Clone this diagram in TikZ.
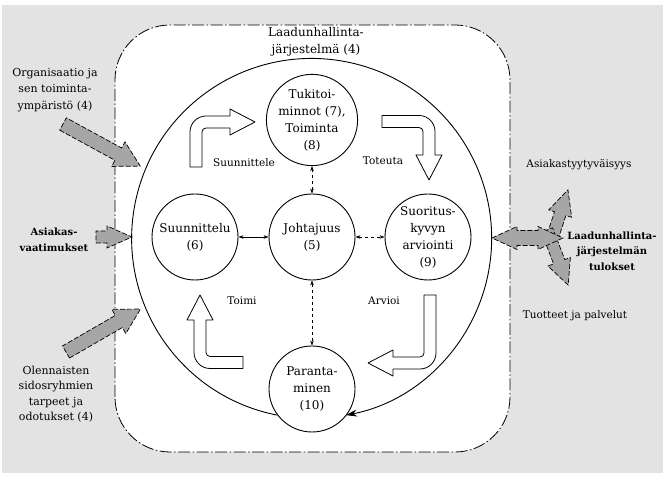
\documentclass[tikz,border=0pt]{standalone}
\usepackage{fontspec}
\setmainfont{DejaVu Serif}
\usepackage{xcolor}
\usepackage{tikz}
\usetikzlibrary{arrows.meta}
\colorlet{bggrey}{black!11}
\colorlet{arrowgrey}{black!35}
\tikzstyle{phase}=[draw,circle,line width=.9pt,minimum size=86pt,inner sep=0pt,align=center,font=\fontsize{12}{17}\selectfont]
\tikzstyle{lbl}=[font=\fontsize{10.5}{13}\selectfont]
\tikzstyle{side}=[align=center,font=\fontsize{11}{16.5}\selectfont]
\tikzstyle{bside}=[align=center,font=\bfseries\fontsize{10}{15.5}\selectfont]
\tikzstyle{link}=[line width=.5pt,<->,>={Stealth[length=5pt,width=3.5pt]}]
\tikzstyle{weak}=[dashed]
\tikzstyle{hollow}=[draw,fill=white,line width=.8pt,line join=round]
\tikzstyle{greyblock}=[draw,fill=arrowgrey,line width=.7pt,dash pattern=on 5pt off 2pt]
\tikzstyle{frame}=[draw,fill=white,line width=.8pt,rounded corners=55pt,dash pattern=on 12pt off 2.5pt on 1.5pt off 2.5pt]
% bent hollow arrow: corner, rotation, tail length, tip length
\newcommand\bentarrow[4]{\draw[hollow,shift={#1},rotate=#2] (-6,-#3) -- (-6,-10)
  arc[start angle=180,end angle=90,radius=16] -- ({#4-25},6) -- ({#4-25},13) -- (#4,0)
  -- ({#4-25},-13) -- ({#4-25},-6) -- (10,-6) arc[start angle=90,end angle=180,radius=4]
  -- (6,-#3) -- cycle;}
% grey block arrow: tail, rotation, length, shaft and head half width
\newcommand\greyarrow[5]{\draw[greyblock,shift={#1},rotate=#2] (0,-#4) -- ({#3-25},-#4)
  -- ({#3-25},-#5) -- (#3,0) -- ({#3-25},#5) -- ({#3-25},#4) -- (0,#4) -- cycle;}

\begin{document}
\begin{tikzpicture}[x=1pt,y=1pt]
	\useasboundingbox (0,0) rectangle (667,478);
	\fill[bggrey] (2,5) rectangle (663,473);
	\draw[frame] (115,26) rectangle (510,453);
	\node[align=center,font=\fontsize{12}{17}\selectfont] (qms) at (316,436.5) {Laadunhallinta-\\järjestelmä (4)};

	\node[phase] (tuki) at (312,358) {Tukitoi-\\minnot (7),\\Toiminta\\(8)};
	\node[phase] (suun) at (195,241) {Suunnittelu\\(6)};
	\node[phase] (joht) at (312,241) {Johtajuus\\(5)};
	\node[phase] (suor) at (428,241) {Suoritus-\\kyvyn\\arviointi\\(9)};
	\node[phase] (para) at (312,89)  {Paranta-\\minen\\(10)};

	\draw[line width=.9pt,-{Stealth[length=11pt,width=7pt]}] (para.217) arc[start angle=259,end angle=-79,radius=180];
	\draw[link] (joht) -- (suun);
	\draw[link,weak] (joht) -- (suor);
	\draw[link,weak] (joht) -- (tuki);
	\draw[link,weak] (joht) -- (para);

	\bentarrow{(196,356)}{0}{45}{59}
	\bentarrow{(429,356.5)}{-90}{47}{58.5}
	\bentarrow{(430,115)}{180}{68}{62}
	\bentarrow{(200,115.5)}{90}{43}{67.5}
	\node[lbl] (plan) at (244,315) {Suunnittele};
	\node[lbl] (do)   at (383,317) {Toteuta};
	\node[lbl] (act)  at (242,177) {Toimi};
	\node[lbl] (chk)  at (384,177) {Arvioi};

	\greyarrow{(63,354)}{-28.6}{88}{7}{14}
	\greyarrow{(96,241)}{0}{36}{6}{11}
	\greyarrow{(66,126)}{30}{86}{7}{14}
	\greyarrow{(550,233)}{72}{58}{6}{12}
	\greyarrow{(547,248)}{-69}{59}{6}{12}
	\draw[greyblock] (492,240) -- (517,251.5) -- (517,247.5) -- (538,247.5) -- (538,251.5) -- (563,240)
	  -- (538,228.5) -- (538,232.5) -- (517,232.5) -- (517,228.5) -- cycle;

	\node[side] (org)   at (55,388) {Organisaatio ja\\sen toiminta-\\ympäristö (4)};
	\node[bside] (vaat) at (54,238) {Asiakas-\\vaatimukset};
	\node[side,font=\fontsize{11}{15.5}\selectfont] (sidos) at (56,84) {Olennaisten\\sidosryhmien\\tarpeet ja\\odotukset (4)};
	\node[bside] (tulos) at (612,227) {Laadunhallinta-\\järjestelmän\\tulokset};
	\node[lbl] (tyyt) at (579,313) {Asiakastyytyväisyys};
	\node[lbl] (tuot) at (575,162) {Tuotteet ja palvelut};
\end{tikzpicture}
\end{document}
